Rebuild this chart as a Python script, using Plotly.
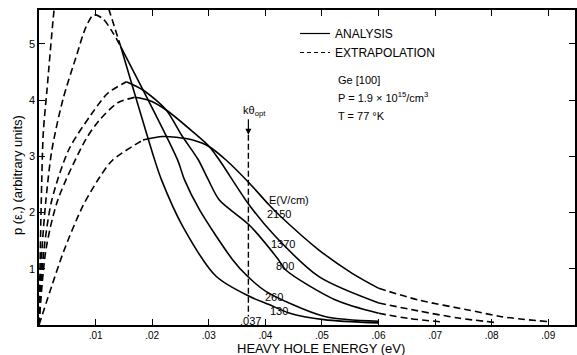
import plotly.graph_objects as go

# ---------------- data ----------------
# field strengths E (V/cm) and their curves p(eps) vs heavy-hole energy (eV)
E130_x = [0, 0.000176, 0.000405, 0.00076, 0.00141, 0.00252, 0.00308,
          0.01113, 0.01232, 0.01444, 0.02042, 0.02165, 0.0254, 0.03129,
          0.03715, 0.04067, 0.04419, 0.05035, 0.06004]
E130_y = [0, 0.978, 2.22, 3.42, 4.18, 5.46, 6.0,
          6.0, 5.62, 4.95, 2.94, 2.58, 1.754, 0.866,
          0.51, 0.363, 0.215, 0.096, 0.037]
E130_solid = (0.01444, 0.06004)

E260_x = [0, 0.00053, 0.00123, 0.00229, 0.00423, 0.00669, 0.00827, 0.00968,
          0.01127, 0.01285, 0.01444, 0.02447, 0.0257, 0.02835, 0.03421,
          0.03685, 0.04009, 0.05035, 0.06004]
E260_y = [0, 1.34, 2.23, 3.12, 4.01, 4.81, 5.29, 5.517,
          5.446, 5.23, 4.95, 2.94, 2.584, 2.051, 1.162,
          0.866, 0.599, 0.155, 0.066]
E260_solid = (0.01444, 0.06004)

E800_x = [0, 0.00088, 0.00229, 0.00528, 0.00928, 0.01215, 0.01544,
          0.01836, 0.02248, 0.02518, 0.02817, 0.02993, 0.03187, 0.03715,
          0.04213, 0.04361, 0.05241, 0.06004, 0.06532, 0.07148]
E800_y = [0, 1.34, 2.23, 3.12, 3.75, 4.12, 4.325,
          4.178, 3.822, 3.378, 2.933, 2.578, 2.222, 1.778,
          1.186, 0.978, 0.444, 0.208, 0.116, 0.053]
E800_solid = (0.01544, 0.06004)

E1370_x = [0, 0.00123, 0.00335, 0.00827, 0.01074, 0.01391, 0.0169,
           0.01954, 0.02248, 0.02717, 0.03011, 0.03187, 0.03715, 0.04155,
           0.04947, 0.06004, 0.06708, 0.07412, 0.08063]
E1370_y = [0, 1.34, 2.23, 3.3, 3.65, 3.95, 4.048,
           3.991, 3.822, 3.436, 3.17, 2.933, 2.133, 1.6,
           0.859, 0.391, 0.249, 0.124, 0.044]
E1370_solid = (0.0169, 0.06004)

E2150_x = [0, 0.00241, 0.00445, 0.00769, 0.01074, 0.01303, 0.01836,
           0.02183, 0.02424, 0.02717, 0.03011, 0.03305, 0.03715, 0.04067,
           0.04243, 0.04947, 0.05534, 0.06004, 0.06708, 0.07588, 0.08174, 0.09]
E2150_y = [0, 0.741, 1.333, 2.103, 2.631, 2.933, 3.289,
           3.351, 3.337, 3.289, 3.17, 2.933, 2.524, 2.133,
           1.956, 1.333, 0.919, 0.652, 0.444, 0.267, 0.148, 0.059]
E2150_solid = (0.01836, 0.06004)

field_labels = ["2150", "1370", "800", "260", "130"]
label_x = [0.04243, 0.04313, 0.04349, 0.04155, 0.04243]
label_y = [1.973, 1.44, 1.049, 0.498, 0.254]

K_THETA_OPT = 0.037
K_LINE_TOP = 3.38
K_LINE_BOTTOM = 0.15

x_tickvals = [0.01, 0.02, 0.03, 0.04, 0.05, 0.06, 0.07, 0.08, 0.09]
x_ticktext = [".01", ".02", ".03", ".04", ".05", ".06", ".07", ".08", ".09"]
y_tickvals = [1, 2, 3, 4, 5]
y_ticktext = ["1", "2", "3", "4", "5"]

X_MAX = 0.09472
Y_MAX = 5.6

FONT = "Liberation Sans"
DASH = "7px,4px"
LW = 1.6


def split_runs(xs, ys, solid):
    s0, s1 = solid
    eps = 1e-9
    runs = []
    cur = None
    for i in range(len(xs) - 1):
        x0, y0, x1, y1 = xs[i], ys[i], xs[i + 1], ys[i + 1]
        if y0 > Y_MAX and y1 > Y_MAX:
            cur = None
            continue
        st = "solid" if (s0 - eps <= x0 <= s1 + eps and s0 - eps <= x1 <= s1 + eps) else "dash"
        if cur is not None and cur["st"] == st:
            cur["xs"].append(x1)
            cur["ys"].append(y1)
        else:
            cur = {"st": st, "xs": [x0, x1], "ys": [y0, y1]}
            runs.append(cur)
    return runs


fig = go.Figure()

curves = [
    (E130_x, E130_y, E130_solid),
    (E260_x, E260_y, E260_solid),
    (E800_x, E800_y, E800_solid),
    (E1370_x, E1370_y, E1370_solid),
    (E2150_x, E2150_y, E2150_solid),
]
for xs, ys, solid in curves:
    for run in split_runs(xs, ys, solid):
        fig.add_trace(go.Scatter(
            x=run["xs"], y=run["ys"], mode="lines",
            line=dict(color="black", width=LW,
                      dash="solid" if run["st"] == "solid" else DASH,
                      shape="spline", smoothing=0.8),
            showlegend=False, hoverinfo="skip"))

# kθ_opt marker line
fig.add_trace(go.Scatter(
    x=[K_THETA_OPT, K_THETA_OPT], y=[K_LINE_TOP, K_LINE_BOTTOM], mode="lines",
    line=dict(color="black", width=1.4, dash="6px,3px"),
    showlegend=False, hoverinfo="skip"))

# legend entries
fig.add_trace(go.Scatter(x=[None], y=[None], mode="lines", name="ANALYSIS",
                         line=dict(color="black", width=1.2)))
fig.add_trace(go.Scatter(x=[None], y=[None], mode="lines", name="EXTRAPOLATION",
                         line=dict(color="black", width=1.2, dash="4px,3px")))

annotations = []
for t, lx, ly in zip(field_labels, label_x, label_y):
    annotations.append(dict(x=lx, y=ly, text=t, showarrow=False,
                            font=dict(size=11, family=FONT, color="black")))
annotations += [
    dict(x=0.0442, y=2.222, text="E(V/cm)", showarrow=False,
         font=dict(size=11, family=FONT, color="black")),
    dict(x=0.03732, y=0.071, text=".037", showarrow=False,
         font=dict(size=11, family=FONT, color="black")),
    dict(x=0.0380, y=3.80, text="kθ<sub>opt</sub>", showarrow=False,
         font=dict(size=11, family=FONT, color="black")),
    dict(x=K_THETA_OPT, y=K_LINE_TOP, ax=0, ay=-17, axref="pixel", ayref="pixel",
         text="", showarrow=True, arrowhead=2, arrowsize=1, arrowwidth=1.2,
         arrowcolor="black"),
    dict(xref="paper", yref="paper", x=(337 - 39) / 538, y=(325 - 80) / 315,
         xanchor="left", yanchor="middle", text="Ge [100]", showarrow=False,
         font=dict(size=11, family=FONT, color="black")),
    dict(xref="paper", yref="paper", x=(337 - 39) / 538, y=(325 - 97) / 315,
         xanchor="left", yanchor="middle",
         text="P = 1.9 × 10<sup>15</sup>/cm<sup>3</sup>", showarrow=False,
         font=dict(size=11, family=FONT, color="black")),
    dict(xref="paper", yref="paper", x=(337 - 39) / 538, y=(325 - 116) / 315,
         xanchor="left", yanchor="middle", text="T = 77 °K", showarrow=False,
         font=dict(size=11, family=FONT, color="black")),
    dict(xref="paper", yref="paper", x=(322 - 39) / 538, y=(325 - 348.5) / 315,
         xanchor="center", yanchor="middle", text="HEAVY HOLE ENERGY (eV)",
         showarrow=False, font=dict(size=13, family=FONT, color="black")),
    dict(xref="paper", yref="paper", x=(17 - 39) / 538, y=(325 - 175) / 315,
         xanchor="center", yanchor="middle", textangle=-90,
         text="p (ε,) (arbitrary units)",
         showarrow=False, font=dict(size=13, family=FONT, color="black")),
]

axis_common = dict(showline=True, linecolor="black", linewidth=1.5, mirror="ticks",
                   ticks="inside", ticklen=6, tickwidth=1.3, tickcolor="black",
                   showgrid=False, zeroline=False)

fig.update_layout(
    width=577, height=355,
    margin=dict(l=39, r=0, t=10, b=30),
    paper_bgcolor="white", plot_bgcolor="white",
    font=dict(family=FONT, color="black"),
    xaxis=dict(range=[0, X_MAX], tickvals=x_tickvals, ticktext=x_ticktext,
               tickfont=dict(size=10, family=FONT, color="black"), **axis_common),
    yaxis=dict(range=[0, Y_MAX], tickvals=y_tickvals, ticktext=y_ticktext,
               tickfont=dict(size=11, family=FONT, color="black"), **axis_common),
    showlegend=True,
    legend=dict(x=(296 - 39) / 538, y=(325 - 19) / 315, xanchor="left", yanchor="top",
                bgcolor="rgba(0,0,0,0)", font=dict(size=12, family=FONT, color="black"),
                itemwidth=30, tracegroupgap=0),
    annotations=annotations,
)

fig.write_html("out.html")
